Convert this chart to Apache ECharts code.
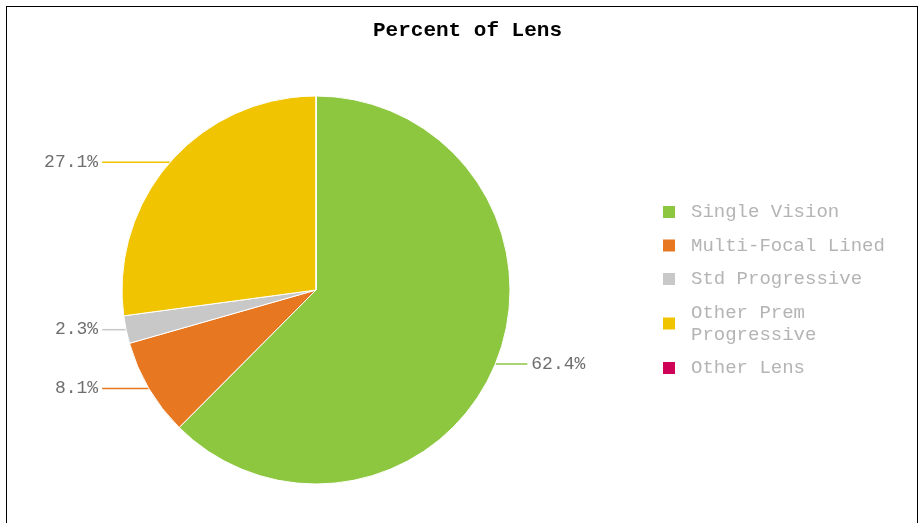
<!DOCTYPE html>
<html>
<head>
<meta charset="utf-8">
<script src="https://cdn.jsdelivr.net/npm/echarts@6/dist/echarts.min.js"></script>
<style>
  html, body { margin: 0; padding: 0; background: #fff; overflow: hidden; }
  #main { position: absolute; left: 0; top: 0; width: 919px; height: 523px; }
  #frame { position: absolute; left: 6px; top: 6px; width: 910px; height: 600px;
           border: 1px solid #000; pointer-events: none; }
</style>
</head>
<body>
<div id="main"></div>
<div id="frame"></div>
<script>
const titleText = 'Percent of Lens'
const categories = ['Single Vision', 'Multi-Focal Lined', 'Std Progressive', 'Other Prem Progressive', 'Other Lens']
const values = [62.4, 8.1, 2.3, 27.1, 0]
const colors = ['#8dc63f', '#e87722', '#c8c8c8', '#f0c400', '#ce0058']

const myChart = echarts.init(document.getElementById('main'))

const option = {
  color: colors,
  title: {
    text: titleText,
    left: 368,
    top: 15,
    textStyle: {
      fontFamily: 'Liberation Mono',
      fontSize: 21,
      fontWeight: 'bold',
      color: '#000'
    }
  },
  legend: {
    orient: 'vertical',
    left: 656,
    top: 196,
    itemWidth: 14,
    itemHeight: 14,
    itemGap: 11.5,
    icon: 'rect',
    data: categories,
    textStyle: {
      fontFamily: 'Liberation Mono',
      fontSize: 19,
      lineHeight: 22,
      color: '#b4b4b4',
      padding: [0, 0, 0, 10],
      width: 210,
      overflow: 'break'
    }
  },
  series: [
    {
      type: 'pie',
      left: 24,
      right: 312,
      top: 0,
      bottom: 0,
      center: [292, 290],
      radius: 194,
      startAngle: 90,
      clockwise: true,
      avoidLabelOverlap: true,
      itemStyle: {
        borderColor: '#fff',
        borderWidth: 1
      },
      label: {
        show: true,
        alignTo: 'labelLine',
        edgeDistance: 20,
        distanceToLabelLine: 4,
        fontFamily: 'Liberation Mono',
        fontSize: 18,
        color: '#6e6e6e',
        formatter: function(p) {
          return p.value > 0 ? p.value.toFixed(1) + '%' : ''
        }
      },
      labelLine: {
        show: true,
        length: 0,
        length2: 24,
        lineStyle: { width: 1.5 }
      },
      data: categories.map(function(name, i) {
        // the only label on the right side gets a slightly longer line
        return {
          name: name,
          value: values[i],
          labelLine: i === 0 ? { length2: 32 } : { show: values[i] > 0 }
        }
      })
    }
  ]
}

myChart.setOption(option)
window.addEventListener('resize', function() {
  myChart.resize()
})
</script>
</body>
</html>
